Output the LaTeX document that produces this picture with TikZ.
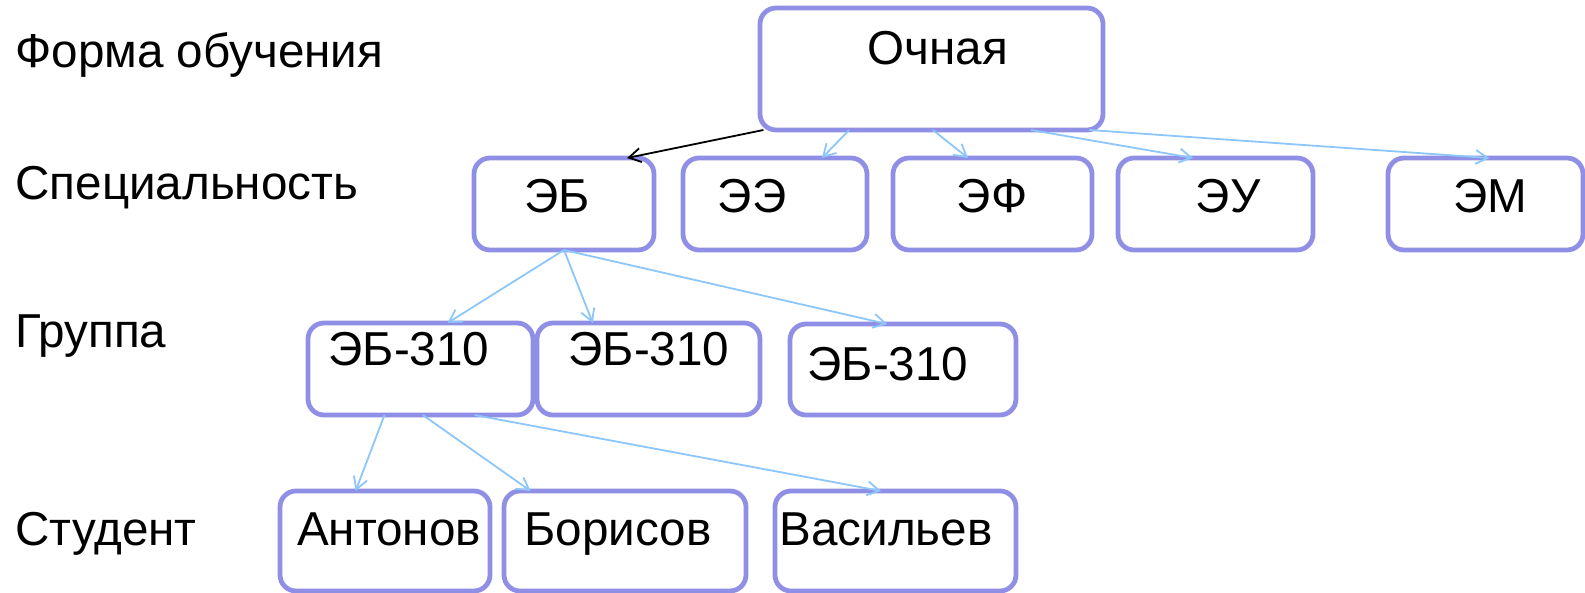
\documentclass[tikz,border=0pt]{standalone}
\usepackage{fontspec}
\setmainfont{Liberation Sans}
\usetikzlibrary{arrows.meta,calc}

\definecolor{boxline}{HTML}{8F8FE6}
\definecolor{linkblue}{HTML}{8CC6FA}

\begin{document}
\begin{tikzpicture}[x=0.5pt,y=-0.5pt]
  \tikzstyle{box} = [rectangle, draw=boxline, line width=2.4pt, fill=white, rounded corners=8pt, inner sep=0pt, outer sep=0pt]
  \tikzstyle{txt} = [anchor=base, inner sep=0pt, font=\fontsize{23.8}{28}\selectfont]
  \tikzstyle{rhead} = [txt, anchor=base west]
  \tikzstyle{link} = [draw=linkblue, line width=0.9pt, -{Straight Barb[length=6pt,width=7pt]}]
  \tikzstyle{blink} = [link, draw=black]

  \useasboundingbox (0,0) rectangle (1585,593);
  \clip (0,0) rectangle (1585,593);

  % row headers
  \node (form) [rhead] at (15,68) {Форма обучения};
  \node (spec) [rhead] at (15,200) {Специальность};
  \node (group) [rhead] at (15,348) {Группа};
  \node (student) [rhead] at (15,545) {Студент};

  % boxes
  \node (ochnaya) [box, minimum width=171.5pt, minimum height=61pt] at (931.5,69) {};

  \node (eb) [box, minimum width=90pt, minimum height=46pt] at (564,204) {};
  \node (ee) [box, minimum width=92pt, minimum height=46pt] at (775,204) {};
  \node (ef) [box, minimum width=99.5pt, minimum height=46pt] at (992.5,204) {};
  \node (eu) [box, minimum width=97.5pt, minimum height=46pt] at (1215.5,204) {};
  \node (em) [box, minimum width=97.5pt, minimum height=46pt] at (1485.5,204) {};

  \node (grp1) [box, minimum width=112.5pt, minimum height=46pt] at (420.5,369) {};
  \node (grp2) [box, minimum width=111.5pt, minimum height=46pt] at (648.5,369) {};
  \node (grp3) [box, minimum width=113pt, minimum height=45.5pt] at (903,369.5) {};

  \node (antonov) [box, minimum width=105pt, minimum height=50pt] at (385,541) {};
  \node (borisov) [box, minimum width=121pt, minimum height=50pt] at (625,541) {};
  \node (vasiliev) [box, minimum width=120.5pt, minimum height=50pt] at (895.5,541) {};

  % texts
  \node (t-ochnaya) [txt] at (938,65) {Очная};
  \node (t-eb) [txt] at (557,213) {ЭБ};
  \node (t-ee) [txt] at (752,213) {ЭЭ};
  \node (t-ef) [txt] at (992,213) {ЭФ};
  \node (t-eu) [txt] at (1228,213) {ЭУ};
  \node (t-em) [txt] at (1490,213) {ЭМ};
  \node (t-grp1) [txt] at (409,365) {ЭБ-310};
  \node (t-grp2) [txt] at (649,365) {ЭБ-310};
  \node (t-grp3) [txt] at (888,380) {ЭБ-310};
  \node (t-antonov) [txt] at (389,545) {Антонов};
  \node (t-borisov) [txt] at (618,545) {Борисов};
  \node (t-vasiliev) [txt] at (886,545) {Васильев};

  % connectors
  \draw [blink] ($(ochnaya.south west)!0.01!(ochnaya.south east)$) -- ($(eb.north west)!0.85!(eb.north east)$);
  \draw [link] ($(ochnaya.south west)!0.26!(ochnaya.south east)$) -- ($(ee.north west)!0.755!(ee.north east)$);
  \draw [link] ($(ochnaya.south west)!0.504!(ochnaya.south east)$) -- ($(ef.north west)!0.377!(ef.north east)$);
  \draw [link] ($(ochnaya.south west)!0.79!(ochnaya.south east)$) -- ($(eu.north west)!0.385!(eu.north east)$);
  \draw [link] ($(ochnaya.south west)!0.96!(ochnaya.south east)$) -- ($(em.north west)!0.52!(em.north east)$);

  \draw [link] (eb.south) -- ($(grp1.north west)!0.62!(grp1.north east)$);
  \draw [link] (eb.south) -- ($(grp2.north west)!0.25!(grp2.north east)$);
  \draw [link] (eb.south) -- ($(grp3.north west)!0.43!(grp3.north east)$);

  \draw [link] ($(grp1.south west)!0.34!(grp1.south east)$) -- ($(antonov.north west)!0.36!(antonov.north east)$);
  \draw [link] ($(grp1.south west)!0.51!(grp1.south east)$) -- ($(borisov.north west)!0.11!(borisov.north east)$);
  \draw [link] ($(grp1.south west)!0.74!(grp1.south east)$) -- ($(vasiliev.north west)!0.44!(vasiliev.north east)$);
\end{tikzpicture}
\end{document}
